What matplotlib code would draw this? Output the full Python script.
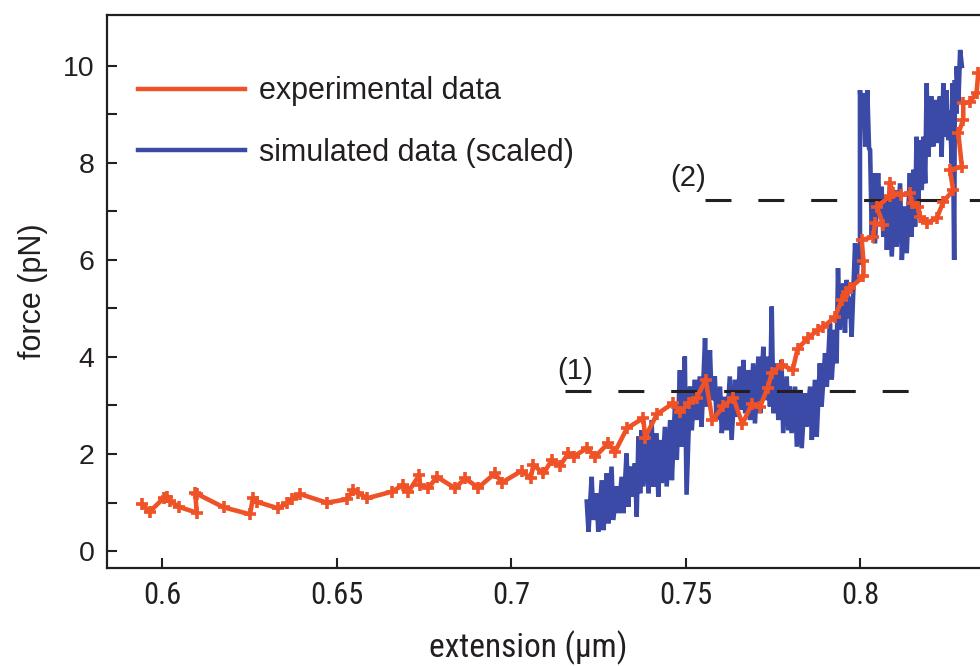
import matplotlib
matplotlib.use("Agg")
import matplotlib.pyplot as plt
from matplotlib import font_manager

# ---------------- data ----------------
exp_x = [0.5942, 0.5964, 0.6004, 0.6013, 0.6023, 0.6047, 0.6099, 0.6095, 0.6101, 0.6176,
         0.6252, 0.6260, 0.6271, 0.6333, 0.6357, 0.6372, 0.6395, 0.6472, 0.6529, 0.6548,
         0.6562, 0.6587,
         0.6658, 0.6691, 0.6706, 0.6737, 0.6739, 0.6763, 0.6787, 0.6840, 0.6868, 0.6906,
         0.6954, 0.6973, 0.7031, 0.7056, 0.7064, 0.7093, 0.7117, 0.7140, 0.7164, 0.7179,
         0.7217, 0.7241, 0.7278, 0.7298, 0.7332, 0.7379, 0.7384, 0.7418, 0.7465, 0.7484,
         0.7510, 0.7532, 0.7558, 0.7577, 0.7608, 0.7637, 0.7663, 0.7690, 0.7713, 0.7735,
         0.7748, 0.7776, 0.7807, 0.7821, 0.7850, 0.7880, 0.7895, 0.7928, 0.7948, 0.7962,
         0.7971, 0.8010, 0.8010, 0.8005, 0.8038, 0.8043, 0.8067, 0.8048, 0.8086, 0.8086,
         0.8095, 0.8119, 0.8143, 0.8148, 0.8167, 0.8172, 0.8191, 0.8220, 0.8239, 0.8267,
         0.8258, 0.8292, 0.8282, 0.8296, 0.8296, 0.8315, 0.8334, 0.8339, 0.8370]
exp_y = [0.963, 0.810, 1.087, 1.120, 1.031, 0.913, 0.790, 1.202, 1.175, 0.901,
         0.757, 1.087, 1.016, 0.880, 0.984, 1.066, 1.175, 0.996, 1.066, 1.258,
         1.202, 1.087,
         1.223, 1.361, 1.223, 1.567, 1.361, 1.293, 1.532, 1.293, 1.499, 1.307,
         1.602, 1.408, 1.656, 1.499, 1.773, 1.602, 1.876, 1.753, 2.014, 1.944,
         2.12, 1.944, 2.22, 2.05, 2.53, 2.74, 2.34, 2.82, 3.05, 2.86,
         3.06, 3.16, 3.53, 2.70, 2.98, 3.16, 2.62, 3.03, 2.96, 3.36,
         3.68, 3.84, 3.73, 4.16, 4.39, 4.56, 4.62, 4.82, 5.18, 5.35,
         5.42, 5.66, 5.97, 6.41, 6.48, 6.76, 6.72, 7.10, 7.31, 7.58,
         7.38, 7.34, 7.38, 7.17, 7.10, 6.89, 6.76, 6.86, 7.20, 7.44,
         7.86, 7.92, 8.61, 8.89, 9.23, 9.26, 9.44, 9.85, 10.0]

sim_x = [0.7217, 0.7231, 0.7245, 0.7260, 0.7274, 0.7288, 0.7303, 0.7317, 0.7331, 0.7341,
         0.7355, 0.7365, 0.7374, 0.7389, 0.7403, 0.7417, 0.7427, 0.7441, 0.7456, 0.7470,
         0.7484, 0.7498, 0.7513, 0.7527, 0.7541, 0.7556, 0.7570, 0.7584, 0.7599, 0.7613,
         0.7627, 0.7642, 0.7656, 0.7666, 0.7680, 0.7694, 0.7709, 0.7723, 0.7737, 0.7747,
         0.7761, 0.7775, 0.7790, 0.7799, 0.7814, 0.7828, 0.7842, 0.7857, 0.7871, 0.7885,
         0.7900, 0.7914, 0.7928, 0.7937, 0.7952, 0.7962, 0.7971, 0.7986, 0.7995, 0.8000,
         0.8010, 0.8021, 0.8029, 0.8038, 0.8052, 0.8062, 0.8072, 0.8086, 0.8100, 0.8115,
         0.8129, 0.8143, 0.8153, 0.8162, 0.8172, 0.8182, 0.8191, 0.8205, 0.8215, 0.8229,
         0.8239, 0.8248, 0.8258, 0.8265, 0.8272, 0.8277, 0.8287]
sim_hi = [1.02, 1.53, 1.19, 1.46, 1.60, 1.74, 1.33, 1.53, 2.01, 1.74,
          1.81, 2.36, 2.49, 2.29, 2.70, 2.43, 2.29, 2.56, 2.70, 3.05,
          3.73, 4.01, 3.39, 3.53, 3.60, 4.39, 4.14, 3.60, 3.39, 3.18,
          3.60, 3.53, 3.80, 3.94, 3.73, 3.87, 4.01, 4.21, 4.01, 5.04,
          3.87, 3.94, 3.60, 3.39, 3.39, 3.32, 3.25, 3.39, 3.53, 3.87,
          4.08, 4.69, 4.56, 5.83, 5.52, 5.59, 5.24, 6.34, 6.30, 9.50,
          9.44, 9.50, 8.27, 7.79, 7.79, 7.51, 7.31, 7.58, 7.44, 7.58,
          7.10, 7.79, 7.86, 8.54, 8.47, 8.54, 9.64, 9.37, 9.30, 9.37,
          9.64, 9.50, 9.09, 9.64, 9.71, 9.99, 10.33]
sim_lo = [0.40, 0.64, 0.40, 0.43, 0.57, 0.64, 0.78, 0.78, 0.91, 1.12,
          0.71, 1.19, 1.33, 1.19, 1.33, 1.12, 1.40, 1.33, 1.46, 1.88,
          2.15, 1.16, 2.49, 2.70, 2.56, 2.98, 3.11, 2.70, 2.43, 2.49,
          2.29, 2.77, 2.91, 2.84, 2.70, 2.63, 2.84, 3.11, 2.98, 2.84,
          2.70, 2.43, 2.49, 2.43, 2.15, 2.12, 2.56, 2.29, 2.36, 2.98,
          3.39, 3.53, 3.87, 4.56, 4.50, 4.80, 4.42, 5.59, 5.90, 8.90,
          8.34, 8.30, 6.48, 6.34, 6.89, 6.48, 6.21, 6.07, 6.27, 6.00,
          6.14, 6.48, 6.69, 7.03, 7.44, 7.58, 8.13, 8.34, 8.41, 8.13,
          8.54, 8.47, 7.99, 6.00, 9.02, 9.23, 10.0]

level_labels = ["(1)", "(2)"]
level_y = [3.30, 7.24]
level_x0 = [0.7155, 0.7556]
level_x1 = [0.8145, 0.8400]
label_xy = [(0.7183, 3.72), (0.7507, 7.68)]

legend_labels = ["experimental data", "simulated data (scaled)"]
x_ticks = [0.6, 0.65, 0.7, 0.75, 0.8]
x_ticklabels = ["0.6", "0.65", "0.7", "0.75", "0.8"]
y_ticks = [0, 2, 4, 6, 8, 10]
y_minor = [1, 3, 5, 7, 9]

# ---------------- style ----------------
RED = "#EF5227"
BLUE = "#3A4AA6"
INK = "#231F20"

fm = font_manager.fontManager
names = {f.name for f in fm.ttflist}
base_font = "Liberation Sans" if "Liberation Sans" in names else "DejaVu Sans"
narrow_family = None
narrow_stretch = 'normal'
for cand in ["Liberation Sans Narrow", "Arial Narrow", "Nimbus Sans Narrow",
             "Roboto Condensed", "Open Sans Condensed", "DejaVu Sans Condensed"]:
    if cand in names:
        narrow_family = cand
        break
if narrow_family is None:
    for f in fm.ttflist:
        if str(f.stretch) in ('condensed', 'semi-condensed', '500', '400', '300') and \
                f.style == 'normal' and f.weight in (400, 'normal', 'regular'):
            if f.name in ("DejaVu Sans", "Liberation Sans", "Noto Sans", "Open Sans", "Roboto", "Lato", "Inter"):
                narrow_family = f.name
                narrow_stretch = 'condensed'
                break
if narrow_family is None:
    narrow_family = base_font
plt.rcParams['font.family'] = [base_font, 'DejaVu Sans']

fig = plt.figure(figsize=(9.8, 6.66), dpi=100)
ax = fig.add_axes([107/980, 98/666, 1 - 107/980, (568 - 15)/666])

# simulated (blue) : dense vertical noise
bx, by = [], []
for x, h, l in zip(sim_x, sim_hi, sim_lo):
    bx += [x, x + 0.0005]
    by += [h, l]
ax.plot(bx, by, color=BLUE, lw=3.3, zorder=2, solid_joinstyle='miter')

# dashed levels
for yv, x0, x1 in zip(level_y, level_x0, level_x1):
    ax.plot([x0, x1], [yv, yv], color=INK, lw=2.2, linestyle=(0, (8.5, 8.8)), zorder=3,
            dash_capstyle='butt')
for lab, (tx, ty) in zip(level_labels, label_xy):
    ax.text(tx, ty, lab, fontsize=21, color=INK, ha='center', va='center', zorder=5)

# experimental (red)
ax.plot(exp_x, exp_y, color=RED, lw=3.3, marker='+', ms=8.5, mew=2.6, zorder=4)

# legend (manual proxies)
h1, = ax.plot([], [], color=RED, lw=3.2)
h2, = ax.plot([], [], color=BLUE, lw=3.2)
leg = ax.legend([h1, h2], legend_labels, loc='upper left', bbox_to_anchor=(0.0355, 0.889),
                frameon=False, fontsize=22, handlelength=3.5, handletextpad=0.45,
                labelspacing=1.03, borderpad=0, borderaxespad=0)
for t in leg.get_texts():
    t.set_color(INK)

ax.set_xlim(0.5842, 0.8344)
ax.set_ylim(-0.35, 11.05)

ax.set_xticks(x_ticks)
ax.set_xticklabels(x_ticklabels, fontfamily=[narrow_family, 'DejaVu Sans'],
                   fontstretch=narrow_stretch, fontsize=22, color=INK)
ax.set_yticks(y_ticks)
ax.set_yticks(y_minor, minor=True)
ax.tick_params(axis='y', which='major', direction='in', length=7, width=1.5, labelsize=20.5,
               pad=9, colors=INK)
ax.tick_params(axis='y', which='minor', direction='in', length=7, width=1.5, colors=INK)
ax.tick_params(axis='x', which='major', direction='in', length=7, width=1.5, pad=9, colors=INK)

for s in ['left', 'bottom', 'top']:
    ax.spines[s].set_linewidth(1.6)
    ax.spines[s].set_color(INK)
ax.spines['right'].set_visible(False)

ax.set_ylabel("force (pN)", fontsize=22, color=INK, va='center')
ax.yaxis.set_label_coords(-0.085, 0.5)
ax.set_xlabel("extension (\u00b5m)", fontsize=24, color=INK, va='center',
              fontfamily=[narrow_family, 'DejaVu Sans'], fontstretch=narrow_stretch)
ax.xaxis.set_label_coords(0.482, -0.145)

fig.savefig("out.png", dpi=100)
